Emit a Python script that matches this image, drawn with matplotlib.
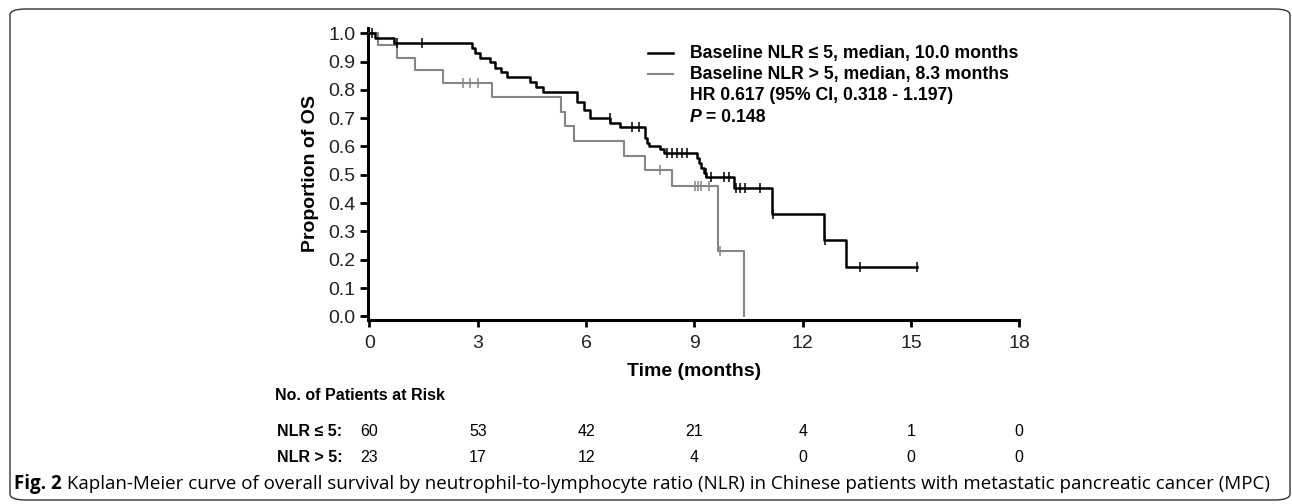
import numpy as np
import matplotlib
matplotlib.use("Agg")
import matplotlib.pyplot as plt
from matplotlib.patches import FancyBboxPatch
import matplotlib.transforms as mtransforms

plt.rcParams['font.family'] = ['Liberation Sans', 'DejaVu Sans']

# ---------------- data ----------------
# NLR <= 5 (black): event times (months) and survival after each event
lo_event_t = [0.15, 0.67, 2.84, 2.93, 3.05, 3.35, 3.49, 3.64, 3.80, 4.46, 4.62, 4.80,
              5.75, 5.94, 6.12, 6.67, 6.95, 7.64, 7.68, 7.74, 8.06, 8.15,
              9.08, 9.12, 9.17, 9.26, 9.33, 10.09, 11.16, 12.59, 13.19]
lo_event_s = [0.983, 0.967, 0.949, 0.932, 0.914, 0.897, 0.879, 0.862, 0.844, 0.827, 0.810, 0.793,
              0.758, 0.730, 0.700, 0.684, 0.668, 0.630, 0.612, 0.600, 0.590, 0.578,
              0.560, 0.543, 0.525, 0.508, 0.492, 0.452, 0.362, 0.268, 0.176]
lo_censor_t = [0.08, 0.76, 1.45, 6.66, 7.27, 7.46, 8.25, 8.38, 8.52, 8.66, 8.80,
               9.31, 9.45, 9.81, 9.95, 10.14, 10.27, 10.41, 10.82, 11.18, 12.61, 13.58, 15.18]
lo_end_t = 15.18

# NLR > 5 (grey)
hi_event_t = [0.25, 0.76, 1.27, 2.05, 3.39, 5.31, 5.43, 5.66, 7.04, 7.64, 8.38, 9.66, 10.37]
hi_event_s = [0.957, 0.913, 0.870, 0.826, 0.774, 0.723, 0.671, 0.619, 0.568, 0.516, 0.459, 0.229, 0.0]
hi_censor_t = [2.59, 2.79, 3.02, 8.04, 9.03, 9.10, 9.17, 9.40, 9.70]
hi_end_t = 10.37

x_ticks = [0, 3, 6, 9, 12, 15, 18]
y_ticks = [0.0, 0.1, 0.2, 0.3, 0.4, 0.5, 0.6, 0.7, 0.8, 0.9, 1.0]
risk_lo = [60, 53, 42, 21, 4, 1, 0]
risk_hi = [23, 17, 12, 4, 0, 0, 0]
legend_lo = "Baseline NLR \u2264 5, median, 10.0 months"
legend_hi = "Baseline NLR > 5, median, 8.3 months"
hr_text = "HR 0.617 (95% CI, 0.318 - 1.197)"
p_value = "0.148"
caption_bold = "Fig. 2"
caption_text = (" Kaplan-Meier curve of overall survival by neutrophil-to-lymphocyte ratio (NLR) "
                "in Chinese patients with metastatic pancreatic cancer (MPC)")

# ---------------- figure ----------------
W, H = 1292, 504
fig = plt.figure(figsize=(W / 100, H / 100), dpi=100)

def fx(px):
    return px / W

def fy(py):
    return 1 - py / H

# frame
frame = FancyBboxPatch((fx(10), fy(500)), fx(1290) - fx(10), fy(9) - fy(500),
                       boxstyle="round,pad=0,rounding_size=0.012",
                       transform=fig.transFigure, fill=False,
                       edgecolor='#333333', linewidth=1.0)
fig.patches.append(frame)

ax = fig.add_axes([fx(368), fy(320), fx(1019.3) - fx(368), fy(27.6) - fy(320)])
ax.set_xlim(-0.04, 18.0)
ax.set_ylim(-0.013, 1.02)

BLACK = '#000000'
GREY = '#858585'

def km_xy(event_t, event_s, end_t):
    t = [0.0] + list(event_t)
    s = [1.0] + list(event_s)
    if end_t > t[-1]:
        t.append(end_t)
        s.append(s[-1])
    return np.array(t), np.array(s)

def surv_at(event_t, event_s, times):
    t = np.array([0.0] + list(event_t))
    s = np.array([1.0] + list(event_s))
    idx = np.searchsorted(t, np.array(times), side='right') - 1
    return s[idx]

t_lo, s_lo = km_xy(lo_event_t, lo_event_s, lo_end_t)
t_hi, s_hi = km_xy(hi_event_t, hi_event_s, hi_end_t)

ax.step(t_hi, s_hi, where='post', color=GREY, lw=1.5, zorder=3)
ax.step(t_lo, s_lo, where='post', color=BLACK, lw=1.8, zorder=4)
ax.plot(hi_censor_t, surv_at(hi_event_t, hi_event_s, hi_censor_t), ls='none',
        marker='|', ms=7, mew=1.1, color=GREY, zorder=3)
ax.plot(lo_censor_t, surv_at(lo_event_t, lo_event_s, lo_censor_t), ls='none',
        marker='|', ms=7, mew=1.1, color=BLACK, zorder=4)

# axes styling
for side in ['top', 'right']:
    ax.spines[side].set_visible(False)
for side in ['left', 'bottom']:
    ax.spines[side].set_linewidth(2.2)
ax.set_xticks(x_ticks)
ax.set_xticklabels([str(v) for v in x_ticks])
ax.set_yticks(y_ticks)
ax.set_yticklabels([f"{v:.1f}" for v in y_ticks])
ax.tick_params(axis='y', direction='out', length=6, width=2.0, labelsize=14,
               pad=3, labelcolor='#222222')
ax.tick_params(axis='x', direction='out', length=5, width=2.0, labelsize=14,
               pad=6, labelcolor='#222222')
ax.set_ylabel("Proportion of OS", fontsize=14, fontweight='bold', labelpad=7)
ax.set_xlabel("Time (months)", fontsize=14, fontweight='bold', labelpad=8)

# legend drawn in axes coordinates
lx0, lx1, tx = 0.430, 0.468, 0.494
rows = [0.913, 0.841, 0.769, 0.693]
ax.plot([lx0, lx1], [rows[0], rows[0]], color=BLACK, lw=1.8, transform=ax.transAxes)
ax.plot([lx0, lx1], [rows[1], rows[1]], color=GREY, lw=1.5, transform=ax.transAxes)
lfs = 12.7
ax.text(tx, rows[0], legend_lo, transform=ax.transAxes, fontsize=lfs,
        fontweight='bold', va='center', ha='left')
ax.text(tx, rows[1], legend_hi, transform=ax.transAxes, fontsize=lfs,
        fontweight='bold', va='center', ha='left')
ax.text(tx, rows[2], hr_text, transform=ax.transAxes, fontsize=lfs,
        fontweight='bold', va='center', ha='left')
tp = ax.text(tx, rows[3], "P", transform=ax.transAxes, fontsize=lfs,
             fontweight='bold', fontstyle='italic', va='center', ha='left')
ax.annotate(" = " + p_value, xy=(1, 0.5), xycoords=tp, fontsize=lfs,
            fontweight='bold', va='center', ha='left')

# risk table
rfs = 11.5
fig.text(fx(275), fy(396), "No. of Patients at Risk", fontsize=rfs,
         fontweight='bold', va='center', ha='left')
fig.text(fx(277), fy(432), "NLR \u2264 5:", fontsize=rfs, fontweight='bold',
         va='center', ha='left')
fig.text(fx(277), fy(457), "NLR > 5:", fontsize=rfs, fontweight='bold',
         va='center', ha='left')
blend = mtransforms.blended_transform_factory(ax.transData, fig.transFigure)
for xv, n1, n2 in zip(x_ticks, risk_lo, risk_hi):
    fig.text(xv, fy(432), str(n1), transform=blend, fontsize=rfs, ha='center', va='center')
    fig.text(xv, fy(457), str(n2), transform=blend, fontsize=rfs, ha='center', va='center')

# caption
cfs = 13.5
cap = fig.text(fx(14), fy(484), caption_bold, fontsize=cfs, fontweight='bold',
               family=['Open Sans', 'DejaVu Sans'], va='center', ha='left')
ax.annotate(caption_text, xy=(1, 0.5), xycoords=cap, fontsize=cfs,
            family=['Open Sans', 'DejaVu Sans'], va='center', ha='left',
            annotation_clip=False)

fig.savefig("out.png", dpi=100)
